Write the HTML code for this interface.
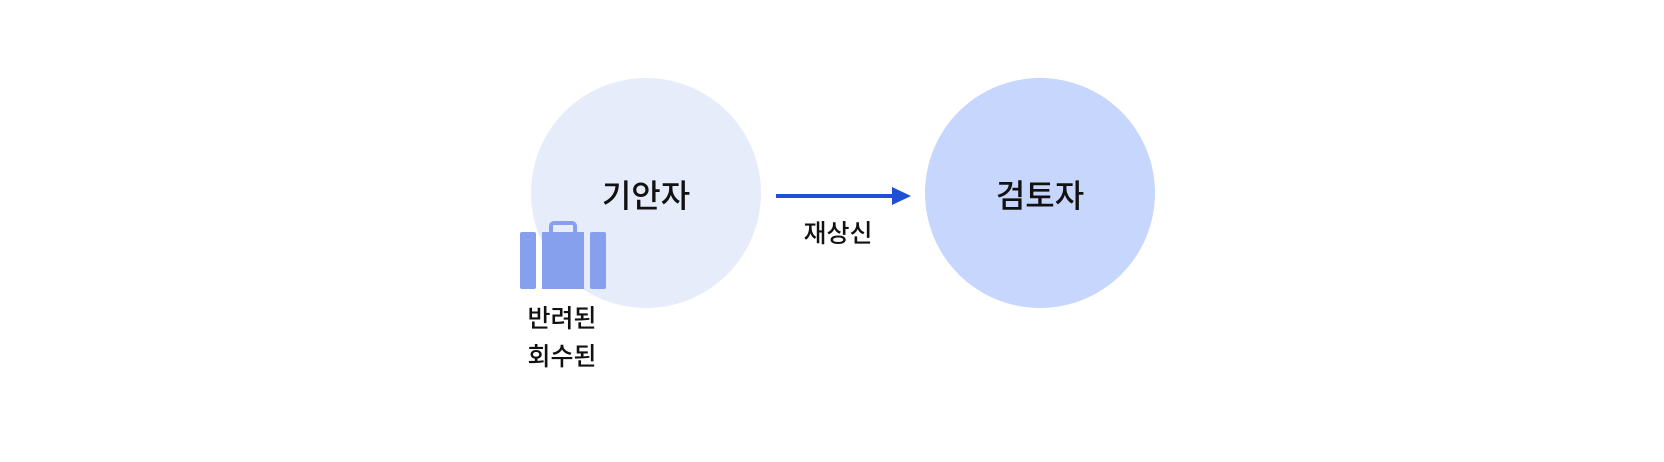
<!DOCTYPE html>
<html><head><meta charset="utf-8"><style>
html,body{margin:0;padding:0;background:#fff;width:1664px;height:462px;overflow:hidden}
</style></head><body>
<svg width="1664" height="462" xmlns="http://www.w3.org/2000/svg" font-family="Liberation Sans, Noto Sans CJK KR, sans-serif">
<circle cx="646" cy="193" r="115" fill="#e7ecfa"/>
<circle cx="1040" cy="193" r="115" fill="#c6d6fd"/>
<line x1="776" y1="196" x2="894" y2="196" stroke="#1f4fd6" stroke-width="4"/>
<polygon points="892,187 911,196 892,205" fill="#1f4fd6"/>
<text x="646" y="207" font-size="32" font-weight="500" text-anchor="middle" fill="#111">기안자</text>
<text x="1040" y="207" font-size="32" font-weight="500" text-anchor="middle" fill="#111">검토자</text>
<text x="838" y="242" font-size="25" font-weight="500" text-anchor="middle" fill="#111">재상신</text>
<rect x="551" y="223" width="24" height="13" rx="3" fill="none" stroke="#86a0ed" stroke-width="4"/>
<rect x="520" y="232" width="16" height="57" rx="2" fill="#86a0ed"/>
<rect x="542" y="232" width="42" height="57" fill="#86a0ed"/>
<rect x="590" y="232" width="16" height="57" rx="2" fill="#86a0ed"/>
<text x="562" y="327" font-size="25" font-weight="500" text-anchor="middle" fill="#111">반려된</text>
<text x="562" y="365" font-size="25" font-weight="500" text-anchor="middle" fill="#111">회수된</text>
</svg>
</body></html>
